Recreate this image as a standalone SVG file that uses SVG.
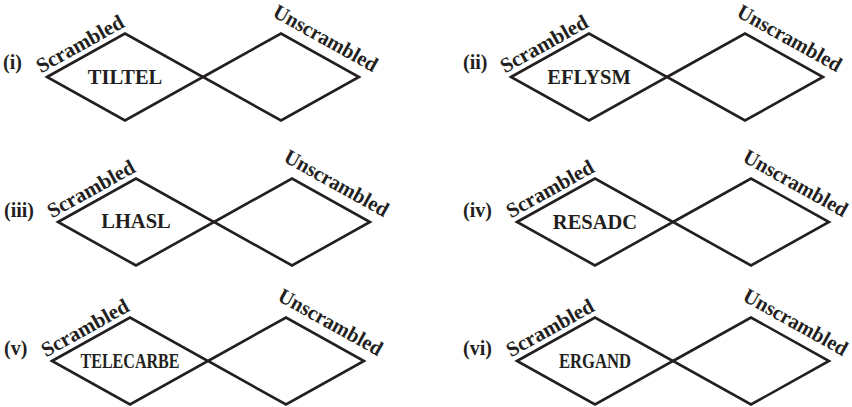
<svg xmlns="http://www.w3.org/2000/svg" width="852" height="407" viewBox="0 0 852 407">
<style>
.d{fill:none;stroke:#231f20;stroke-width:2.6;stroke-linejoin:miter}
.t{font-family:"Liberation Serif","Times New Roman",serif;font-weight:bold;fill:#231f20;font-size:20px}
.s{font-size:21px}
.w{text-anchor:middle;font-size:20.5px}
</style>
<defs>
<path id="dl" d="M0,0 L78,-43.5 L156,0 L78,43.5 Z"/>
<path id="dr" d="M156,0 L234,-43.5 L312,0 L234,43.5 Z"/>
</defs>
<rect width="852" height="407" fill="#fff"/>

<g id="panel-i" transform="translate(47,77)">
<text class="t" x="-44" y="-8">(i)</text>
<g id="scrambled-i"><use href="#dl" class="d"/><text class="t s" transform="translate(-6,-3.5) rotate(-29.1)">Scrambled</text><text class="t w" x="78" y="7">TILTEL</text></g>
<g id="unscrambled-i"><use href="#dr" class="d"/><text class="t s" transform="translate(224.5,-61) rotate(29.1)" textLength="116" lengthAdjust="spacingAndGlyphs">Unscrambled</text></g>
</g>

<g id="panel-ii" transform="translate(511,77)">
<text class="t" x="-48" y="-8">(ii)</text>
<g id="scrambled-ii"><use href="#dl" class="d"/><text class="t s" transform="translate(-6,-3.5) rotate(-29.1)">Scrambled</text><text class="t w" x="78" y="7">EFLYSM</text></g>
<g id="unscrambled-ii"><use href="#dr" class="d"/><text class="t s" transform="translate(224.5,-61) rotate(29.1)" textLength="116" lengthAdjust="spacingAndGlyphs">Unscrambled</text></g>
</g>

<g id="panel-iii" transform="translate(58,222)">
<text class="t" x="-54" y="-5">(iii)</text>
<g id="scrambled-iii"><use href="#dl" class="d"/><text class="t s" transform="translate(-6,-3.5) rotate(-29.1)">Scrambled</text><text class="t w" x="78" y="6">LHASL</text></g>
<g id="unscrambled-iii"><use href="#dr" class="d"/><text class="t s" transform="translate(224.5,-61) rotate(29.1)" textLength="116" lengthAdjust="spacingAndGlyphs">Unscrambled</text></g>
</g>

<g id="panel-iv" transform="translate(517,222)">
<text class="t" x="-54" y="-5">(iv)</text>
<g id="scrambled-iv"><use href="#dl" class="d"/><text class="t s" transform="translate(-6,-3.5) rotate(-29.1)">Scrambled</text><text class="t w" x="78" y="7">RESADC</text></g>
<g id="unscrambled-iv"><use href="#dr" class="d"/><text class="t s" transform="translate(224.5,-61) rotate(29.1)" textLength="116" lengthAdjust="spacingAndGlyphs">Unscrambled</text></g>
</g>

<g id="panel-v" transform="translate(52,361)">
<text class="t" x="-48" y="-6">(v)</text>
<g id="scrambled-v"><use href="#dl" class="d"/><text class="t s" transform="translate(-6,-3.5) rotate(-29.1)">Scrambled</text><text class="t w" x="78" y="7" textLength="99" lengthAdjust="spacingAndGlyphs">TELECARBE</text></g>
<g id="unscrambled-v"><use href="#dr" class="d"/><text class="t s" transform="translate(224.5,-61) rotate(29.1)" textLength="116" lengthAdjust="spacingAndGlyphs">Unscrambled</text></g>
</g>

<g id="panel-vi" transform="translate(517,361)">
<text class="t" x="-54" y="-6">(vi)</text>
<g id="scrambled-vi"><use href="#dl" class="d"/><text class="t s" transform="translate(-6,-3.5) rotate(-29.1)">Scrambled</text><text class="t w" x="78" y="7" textLength="72" lengthAdjust="spacingAndGlyphs">ERGAND</text></g>
<g id="unscrambled-vi"><use href="#dr" class="d"/><text class="t s" transform="translate(224.5,-61) rotate(29.1)" textLength="116" lengthAdjust="spacingAndGlyphs">Unscrambled</text></g>
</g>

<g id="connectors"></g>
</svg>
